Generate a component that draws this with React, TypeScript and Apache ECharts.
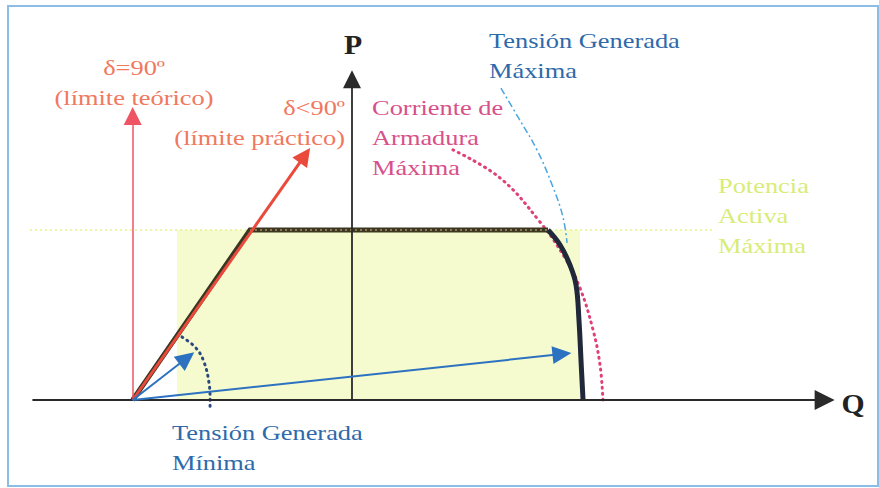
import React, { useEffect, useRef } from "react";
import * as echarts from "echarts";

// Data coordinates: Q (reactive power, horizontal), P (active power, vertical), P max = 1
const qRange = [-2, 3];
const pRange = [-0.5, 2.3];

const qAxisLine = [[-1.88, 0], [2.78, 0]];
const pAxisLine = [[0, 0], [0, 1.887]];
const operatingAreaTop = [[-1.03, 1], [1.341, 1]];
const maxActivePowerLine = [[-1.894, 1], [2.118, 1]];
const capabilityStraight = [[-1.29, 0], [-0.6, 1], [1.153, 1]];
const capabilityCurve = [
  [1.153, 1], [1.224, 0.912], [1.282, 0.794], [1.318, 0.676],
  [1.335, 0.471], [1.347, 0.235], [1.359, 0],
];
const armatureCurrentArc = [
  [0.594, 1.471], [0.871, 1.306], [1.106, 1.047], [1.253, 0.835],
  [1.341, 0.659], [1.418, 0.412], [1.459, 0.206], [1.476, 0],
];
const maxVoltageArc = [
  [0.876, 1.835], [0.976, 1.665], [1.088, 1.471], [1.182, 1.253],
  [1.241, 1.076], [1.265, 0.924],
];
const minVoltageArc = [
  [-1.0, 0.371], [-0.918, 0.306], [-0.871, 0.224], [-0.841, 0.1],
  [-0.835, 0], [-0.835, -0.047],
];
const arrowOrigin = [-1.29, 0];
const redArrowEnds = [[-1.29, 1.67], [-0.277, 1.439]];
const blueArrowEnds = [[-0.972, 0.247], [1.235, 0.27]];

const labelTexts = [
  "δ=90º", "(límite teórico)", "δ<90º", "(límite práctico)",
  "Corriente de", "Armadura", "Máxima",
  "Tensión Generada", "Máxima",
  "Potencia", "Activa", "Máxima",
  "Tensión Generada", "Mínima",
  "P", "Q",
];
const labelAnchors = [
  [-1.282, 1.959], [-1.282, 1.782], [-0.041, 1.724], [-0.041, 1.547],
  [0.118, 1.724], [0.118, 1.547], [0.118, 1.371],
  [0.806, 2.118], [0.806, 1.941],
  [2.153, 1.265], [2.153, 1.088], [2.153, 0.912],
  [-1.059, -0.188], [-1.059, -0.365],
  [0.006, 2.088], [2.947, -0.024],
];
const labelAligns = [
  "center", "center", "right", "right",
  "left", "left", "left",
  "left", "left",
  "left", "left", "left",
  "left", "left",
  "center", "center",
];
const labelColors = [
  "#f0785e", "#f0785e", "#f0785e", "#f0785e",
  "#d8508a", "#d8508a", "#d8508a",
  "#2e6aaa", "#2e6aaa",
  "#d8ec78", "#d8ec78", "#d8ec78",
  "#2e6aaa", "#2e6aaa",
  "#222222", "#222222",
];
const labelBold = [false, false, false, false, false, false, false, false, false, false, false, false, false, false, true, true];

function plainLine(data: number[][], lineStyle: any, extra: any = {}) {
  return {
    type: "line",
    data,
    symbol: "none",
    silent: true,
    lineStyle,
    ...extra,
  };
}

function arrowSeries(start: number[], ends: number[][], color: string, width: number, size: number[]) {
  return {
    type: "line",
    data: [],
    silent: true,
    markLine: {
      silent: true,
      animation: false,
      symbol: ["none", "triangle"],
      symbolSize: size,
      label: { show: false },
      emphasis: { disabled: true },
      lineStyle: { color, width, type: "solid", opacity: 1 },
      data: ends.map((e) => [{ coord: start }, { coord: e }]),
    },
  };
}

export default function App() {
  const ref = useRef<HTMLDivElement>(null);
  useEffect(() => {
    if (!ref.current) return;
    const chart = echarts.init(ref.current, undefined, { renderer: "svg" });
    const option: any = {
      animation: false,
      backgroundColor: "#ffffff",
      grid: { left: 12, top: 9, width: 850, height: 476 },
      xAxis: { type: "value", min: qRange[0], max: qRange[1], show: false },
      yAxis: { type: "value", min: pRange[0], max: pRange[1], show: false },
      series: [
        plainLine(operatingAreaTop, { width: 0 }, {
          areaStyle: { color: "#f5fbcf", opacity: 1, origin: 0 },
        }),
        plainLine(maxActivePowerLine, { color: "#e4f38a", width: 1.5, type: [2, 3] }),
        plainLine(armatureCurrentArc, { color: "#e0407a", width: 3, type: [1, 5], cap: "round" }, { smooth: 0.4 }),
        plainLine(maxVoltageArc, { color: "#4aa6e0", width: 1.5, type: [7, 3, 2, 3] }, { smooth: 0.4 }),
        arrowSeries(qAxisLine[0], [qAxisLine[1]], "#2a2a2a", 2, [20, 20]),
        arrowSeries(pAxisLine[0], [pAxisLine[1]], "#2a2a2a", 1.8, [18, 18]),
        plainLine(capabilityStraight, { color: "#3a3622", width: 5, join: "miter" }),
        plainLine([capabilityStraight[1], capabilityStraight[2]], { color: "#8a7a50", width: 2, type: [2, 3] }),
        plainLine(capabilityCurve, { color: "#20283a", width: 5 }, { smooth: 0.4 }),
        arrowSeries(arrowOrigin, [redArrowEnds[0]], "#ee5464", 1.5, [18, 18]),
        arrowSeries(arrowOrigin, [redArrowEnds[1]], "#ea4a3c", 3, [18, 18]),
        arrowSeries(arrowOrigin, blueArrowEnds, "#2c72c0", 2, [18, 19]),
        plainLine(minVoltageArc, { color: "#2a4a80", width: 3, type: [1, 5], cap: "round" }, { smooth: 0.4 }),
      ],
    };
    chart.setOption(option);

    const texts = labelTexts.map((t, i) => {
      const px = chart.convertToPixel({ gridIndex: 0 }, labelAnchors[i]) as number[];
      const bold = labelBold[i];
      const size = bold ? 27 : 22;
      return {
        type: "text",
        x: px[0],
        y: px[1],
        scaleX: bold ? 1.1 : 1.2,
        silent: true,
        z: 100,
        style: {
          text: t,
          fill: labelColors[i],
          font: (bold ? "bold " : "normal ") + size + "px Liberation Serif, Times New Roman, serif",
          fontFamily: "Liberation Serif",
          fontSize: size,
          fontWeight: bold ? "bold" : "normal",
          textAlign: labelAligns[i],
          align: labelAligns[i],
          textVerticalAlign: "middle",
          verticalAlign: "middle",
        },
      };
    });

    chart.setOption({
      graphic: [
        {
          type: "rect",
          silent: true,
          shape: { x: 8, y: 6, width: 870, height: 480 },
          style: { fill: "none", stroke: "#8cbde6", lineWidth: 2 },
          z: 50,
        },
        ...texts,
      ],
    });

    return () => chart.dispose();
  }, []);
  return (
    <div
      ref={ref}
      style={{ position: "fixed", left: 0, top: 0, width: 879, height: 488 }}
    />
  );
}
